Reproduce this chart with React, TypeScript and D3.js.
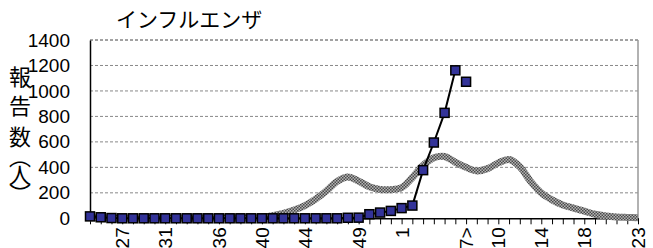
import { useRef, useEffect } from 'react'
import * as d3 from 'd3'

const WIDTH = 653
const HEIGHT = 248
const PLOT = { left: 90, right: 638, top: 40, bottom: 218.3 }

// weeks 24 .. 52, then 1 .. 23
const WEEKS = [
  '24', '25', '26', '27', '28', '29', '30', '31', '32', '33', '34', '35', '36', '37', '38', '39', '40',
  '41', '42', '43', '44', '45', '46', '47', '48', '49', '50', '51', '52', '1', '2', '3', '4', '5', '6',
  '7', '8', '9', '10', '11', '12', '13', '14', '15', '16', '17', '18', '19', '20', '21', '22', '23',
]
const SHOWN_LABELS: [string, string][] = [
  ['27', '27'], ['31', '31'], ['36', '36'], ['40', '40'], ['44', '44'], ['49', '49'],
  ['1', '1'], ['7', '7>'], ['10', '10'], ['14', '14'], ['18', '18'], ['23', '23'],
]
const Y_TICKS = [0, 200, 400, 600, 800, 1000, 1200, 1400]

// this season (weeks 24 .. 6), connected
const CURRENT = [
  15, 8, 2, 0, 0, 0, 0, 0, 0, 0, 0, 0, 0, 0, 0, 0, 0, 0, 0, 0, 0, 0, 0, 0, 4, 5, 32, 45, 58, 80, 100,
  378, 595, 828, 1162,
]
// latest week, drawn on its own
const LATEST = [{ week: '7', value: 1072 }]

// past-season average (weeks 24 .. 23)
const AVERAGE = [
  5, 4, 3, 3, 3, 3, 3, 3, 3, 3, 3, 3, 4, 4, 5, 6, 8, 20, 38, 65, 100, 150, 215, 290, 325, 292, 248,
  226, 225, 240, 320, 415, 475, 485, 440, 400, 372, 390, 435, 462, 405, 290, 200, 145, 105, 80, 56,
  32, 18, 10, 7, 5,
]

// character and centre y, set vertically
const Y_TITLE: [string, number][] = [
  ['報', 77], ['告', 106], ['数', 137], ['（', 157], ['人', 175], ['）', 194],
]

export default function App() {
  const svgRef = useRef<SVGSVGElement>(null)

  useEffect(() => {
    if (!svgRef.current) return
    const svg = d3.select(svgRef.current)
    svg.selectAll('*').remove()

    const x = d3.scalePoint<string>().domain(WEEKS).range([PLOT.left, PLOT.right])
    const y = d3.scaleLinear().domain([0, 1400]).range([PLOT.bottom, PLOT.top])

    const defs = svg.append('defs')
    const pat = defs
      .append('pattern')
      .attr('id', 'checker')
      .attr('width', 3)
      .attr('height', 3)
      .attr('patternUnits', 'userSpaceOnUse')
    pat.append('rect').attr('width', 3).attr('height', 3).attr('fill', '#b4b4b4')
    pat.append('rect').attr('width', 1.5).attr('height', 1.5).attr('fill', '#4a4a4a')
    pat.append('rect').attr('x', 1.5).attr('y', 1.5).attr('width', 1.5).attr('height', 1.5).attr('fill', '#4a4a4a')

    // title
    svg
      .append('text')
      .attr('x', 116)
      .attr('y', 27)
      .attr('font-family', '"Noto Sans CJK JP", sans-serif')
      .attr('font-size', 21)
      .attr('fill', '#000')
      .text('インフルエンザ')

    // gridlines
    svg
      .append('g')
      .selectAll('line')
      .data(Y_TICKS.filter((d) => d > 0))
      .join('line')
      .attr('x1', PLOT.left)
      .attr('x2', PLOT.right)
      .attr('y1', (d) => y(d))
      .attr('y2', (d) => y(d))
      .attr('stroke', (d) => (d === 1400 ? '#444' : '#888'))
      .attr('stroke-width', 1)
      .attr('stroke-dasharray', '3,2')

    // right border
    svg
      .append('line')
      .attr('x1', PLOT.right)
      .attr('x2', PLOT.right)
      .attr('y1', PLOT.top)
      .attr('y2', PLOT.bottom)
      .attr('stroke', '#999')
      .attr('stroke-width', 1.5)

    // y axis
    const yAxis = svg
      .append('g')
      .attr('transform', `translate(${PLOT.left},0)`)
      .call(d3.axisLeft(y).tickValues(Y_TICKS).tickSize(0).tickPadding(20).tickFormat(d3.format('d')))
    yAxis.select('.domain').attr('stroke', '#000').attr('stroke-width', 1.5)
    yAxis
      .selectAll('text')
      .attr('font-family', '"Liberation Sans", Arial, sans-serif')
      .attr('font-size', 19)
      .attr('fill', '#000')

    // x axis
    const labelMap = new Map(SHOWN_LABELS)
    const xAxis = svg
      .append('g')
      .attr('transform', `translate(0,${PLOT.bottom})`)
      .call(
        d3
          .axisBottom(x)
          .tickSize(6)
          .tickSizeOuter(0)
          .tickFormat((d) => labelMap.get(d) ?? ''),
      )
    xAxis.select('.domain').attr('stroke', '#000').attr('stroke-width', 1.5)
    xAxis.selectAll('.tick line').attr('stroke', '#000')
    xAxis
      .selectAll('text')
      .attr('transform', 'rotate(-90)')
      .attr('text-anchor', 'end')
      .attr('dy', '0.35em')
      .attr('x', -9)
      .attr('y', 0)
      .attr('font-family', '"Liberation Sans", Arial, sans-serif')
      .attr('font-size', 19)
      .attr('fill', '#000')

    // average line
    const avgLine = d3
      .line<number>()
      .x((_d, i) => x(WEEKS[i]) ?? 0)
      .y((d) => y(d))
      .curve(d3.curveCatmullRom.alpha(0.5))
    svg
      .append('path')
      .datum(AVERAGE)
      .attr('d', avgLine)
      .attr('fill', 'none')
      .attr('stroke', 'url(#checker)')
      .attr('stroke-width', 7)

    // current season
    const curLine = d3
      .line<number>()
      .x((_d, i) => x(WEEKS[i]) ?? 0)
      .y((d) => y(d))
    svg
      .append('path')
      .datum(CURRENT)
      .attr('d', curLine)
      .attr('fill', 'none')
      .attr('stroke', '#000')
      .attr('stroke-width', 2)

    const pts = [
      ...CURRENT.map((v, i) => ({ week: WEEKS[i], value: v })),
      ...LATEST,
    ]
    const S = 9
    svg
      .append('g')
      .selectAll('rect')
      .data(pts)
      .join('rect')
      .attr('x', (d) => (x(d.week) ?? 0) - S / 2)
      .attr('y', (d) => y(d.value) - S / 2)
      .attr('width', S)
      .attr('height', S)
      .attr('fill', '#333399')
      .attr('stroke', '#000')
      .attr('stroke-width', 1.5)

    // y title, vertical writing so the brackets take their vertical forms
    const yt = svg.append('g')
    Y_TITLE.forEach(([ch, cy]) => {
      yt.append('text')
        .attr('x', 20)
        .attr('y', cy)
        .attr('text-anchor', 'middle')
        .style('writing-mode', 'vertical-rl')
        .attr('font-family', '"Noto Sans CJK JP", sans-serif')
        .attr('font-size', 22)
        .attr('fill', '#000')
        .text(ch)
    })
  }, [])

  return (
    <svg
      ref={svgRef}
      width={WIDTH}
      height={HEIGHT}
      style={{ position: 'absolute', left: 0, top: 0, background: '#fff' }}
    />
  )
}
